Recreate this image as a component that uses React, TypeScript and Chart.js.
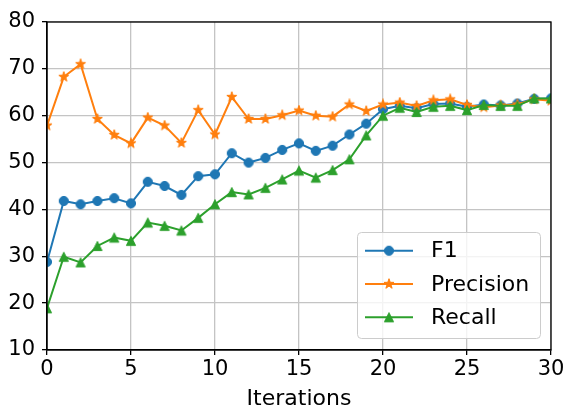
import React, { useEffect, useRef } from "react";
import { Chart, registerables } from "chart.js";

Chart.register(...registerables);

const iterations = [0, 1, 2, 3, 4, 5, 6, 7, 8, 9, 10, 11, 12, 13, 14, 15, 16, 17, 18, 19, 20, 21, 22, 23, 24, 25, 26, 27, 28, 29, 30];
const f1 = [28.8, 41.8, 41.1, 41.8, 42.4, 41.3, 45.9, 45.0, 43.1, 47.1, 47.5, 52.0, 50.0, 51.0, 52.7, 54.1, 52.5, 53.6, 56.0, 58.3, 61.4, 62.1, 61.6, 62.5, 62.6, 61.9, 62.4, 62.2, 62.6, 63.6, 63.7];
const precision = [57.9, 68.3, 71.0, 59.3, 55.9, 54.1, 59.6, 57.9, 54.2, 61.2, 56.0, 64.0, 59.3, 59.3, 60.1, 61.1, 60.0, 59.8, 62.4, 61.0, 62.4, 62.8, 62.1, 63.3, 63.5, 62.3, 61.8, 62.2, 62.4, 63.5, 63.2];
const recall = [18.9, 29.9, 28.7, 32.2, 34.0, 33.3, 37.2, 36.5, 35.5, 38.2, 41.1, 43.7, 43.2, 44.6, 46.4, 48.3, 46.8, 48.4, 50.7, 55.8, 60.0, 61.7, 60.8, 61.9, 62.1, 61.2, 62.3, 62.1, 62.1, 63.7, 63.7];
const seriesLabels = ["F1", "Precision", "Recall"];
const yTicks = [10, 20, 30, 40, 50, 60, 70, 80];
const xTicks = [0, 5, 10, 15, 20, 25, 30];
const xTitle = "Iterations";

const BLUE = "#1f77b4";
const ORANGE = "#ff7f0e";
const GREEN = "#2ca02c";
const FONT = "'DejaVu Sans', sans-serif";

function makeMarker(kind: string, color: string): HTMLCanvasElement {
  const c = document.createElement("canvas");
  const s = 12;
  c.width = s;
  c.height = s;
  const ctx = c.getContext("2d")!;
  ctx.fillStyle = color;
  ctx.strokeStyle = color;
  ctx.lineWidth = 1;
  const cx = s / 2, cy = s / 2;
  ctx.beginPath();
  if (kind === "circle") {
    ctx.arc(cx, cy, 4.6, 0, Math.PI * 2);
  } else if (kind === "star") {
    const R = 5.3, r = 2.1;
    for (let i = 0; i < 10; i++) {
      const a = -Math.PI / 2 + (i * Math.PI) / 5;
      const rad = i % 2 === 0 ? R : r;
      const x = cx + rad * Math.cos(a);
      const y = cy + rad * Math.sin(a);
      if (i === 0) ctx.moveTo(x, y); else ctx.lineTo(x, y);
    }
    ctx.closePath();
  } else {
    ctx.moveTo(cx, cy - 4.6);
    ctx.lineTo(cx - 4.6, cy + 4.6);
    ctx.lineTo(cx + 4.6, cy + 4.6);
    ctx.closePath();
  }
  ctx.fill();
  ctx.stroke();
  return c;
}

export default function App() {
  const ref = useRef<HTMLCanvasElement | null>(null);
  useEffect(() => {
    const canvas = ref.current!;
    const markers = [
      makeMarker("circle", BLUE),
      makeMarker("star", ORANGE),
      makeMarker("triangle", GREEN),
    ];
    const colors = [BLUE, ORANGE, GREEN];
    const series = [f1, precision, recall];

    const framePlugin = {
      id: "frame",
      afterDatasetsDraw(chart: any) {
        const { ctx, chartArea: a } = chart;
        ctx.save();
        ctx.strokeStyle = "#000";
        ctx.lineWidth = 1.3;
        ctx.strokeRect(a.left, a.top, a.right - a.left, a.bottom - a.top);
        ctx.restore();

        // legend
        const bx = 357.5, by = 232.5, bw = 183, bh = 106, rr = 4;
        ctx.save();
        ctx.beginPath();
        ctx.moveTo(bx + rr, by);
        ctx.lineTo(bx + bw - rr, by);
        ctx.quadraticCurveTo(bx + bw, by, bx + bw, by + rr);
        ctx.lineTo(bx + bw, by + bh - rr);
        ctx.quadraticCurveTo(bx + bw, by + bh, bx + bw - rr, by + bh);
        ctx.lineTo(bx + rr, by + bh);
        ctx.quadraticCurveTo(bx, by + bh, bx, by + bh - rr);
        ctx.lineTo(bx, by + rr);
        ctx.quadraticCurveTo(bx, by, bx + rr, by);
        ctx.closePath();
        ctx.fillStyle = "rgba(255,255,255,0.8)";
        ctx.fill();
        ctx.strokeStyle = "#cccccc";
        ctx.lineWidth = 1;
        ctx.stroke();
        const rows = [250.7, 284, 317.3];
        ctx.font = `22px ${FONT}`;
        ctx.textBaseline = "middle";
        ctx.textAlign = "left";
        chart.data.datasets.forEach((ds: any, i: number) => {
          const y = rows[i];
          ctx.strokeStyle = colors[i];
          ctx.lineWidth = 2;
          ctx.beginPath();
          ctx.moveTo(365, y);
          ctx.lineTo(413, y);
          ctx.stroke();
          const m = markers[i];
          ctx.drawImage(m, 389 - m.width / 2, y - m.height / 2);
          ctx.fillStyle = "#000";
          ctx.fillText(ds.label, 431, y + 1);
        });
        ctx.restore();
      },
    };

    const chart = new Chart(canvas, {
      type: "line",
      data: {
        labels: iterations,
        datasets: series.map((vals, i) => ({
          label: seriesLabels[i],
          data: iterations.map((x, j) => ({ x, y: vals[j] })),
          borderColor: colors[i],
          backgroundColor: colors[i],
          borderWidth: 2,
          pointStyle: markers[i] as any,
          pointRadius: 5,
          tension: 0,
          clip: 0,
          order: 2 - i,
        })),
      },
      options: {
        animation: false,
        responsive: false,
        devicePixelRatio: 1,
        layout: { padding: { top: 22, right: 17, left: 0, bottom: 0 } },
        plugins: { legend: { display: false }, tooltip: { enabled: false } },
        scales: {
          x: {
            type: "linear",
            min: 0,
            max: 30,
            afterBuildTicks: (scale: any) => {
              scale.ticks = xTicks.map((v) => ({ value: v }));
            },
            afterFit: (scale: any) => {
              scale.height = 58;
            },
            ticks: {
              color: "#000",
              font: { family: FONT, size: 21 },
              padding: 2,
              maxRotation: 0,
            },
            grid: {
              color: "#c4c4c4",
              lineWidth: 1.3,
              drawTicks: true,
              tickLength: 5,
              tickColor: "#000",
              tickWidth: 1.3,
            },
            border: { display: true, color: "#000", width: 1.3 },
            title: {
              display: true,
              text: xTitle,
              color: "#000",
              font: { family: FONT, size: 22 },
              padding: { top: 0, bottom: -4 },
            },
          },
          y: {
            type: "linear",
            min: 10,
            max: 80,
            afterBuildTicks: (scale: any) => {
              scale.ticks = yTicks.map((v) => ({ value: v }));
            },
            afterFit: (scale: any) => {
              scale.width = 47;
            },
            ticks: {
              color: "#000",
              font: { family: FONT, size: 21 },
              padding: 7,
            },
            grid: {
              color: "#c4c4c4",
              lineWidth: 1.3,
              drawTicks: true,
              tickLength: 5,
              tickColor: "#000",
              tickWidth: 1.3,
            },
            border: { display: true, color: "#000", width: 1.3 },
          },
        },
      },
      plugins: [framePlugin],
    });
    return () => chart.destroy();
  }, []);

  return (
    <div style={{ position: "absolute", left: 0, top: 0, width: 568, height: 408, background: "#fff" }}>
      <canvas ref={ref} width={568} height={408} style={{ width: 568, height: 408 }} />
    </div>
  );
}
